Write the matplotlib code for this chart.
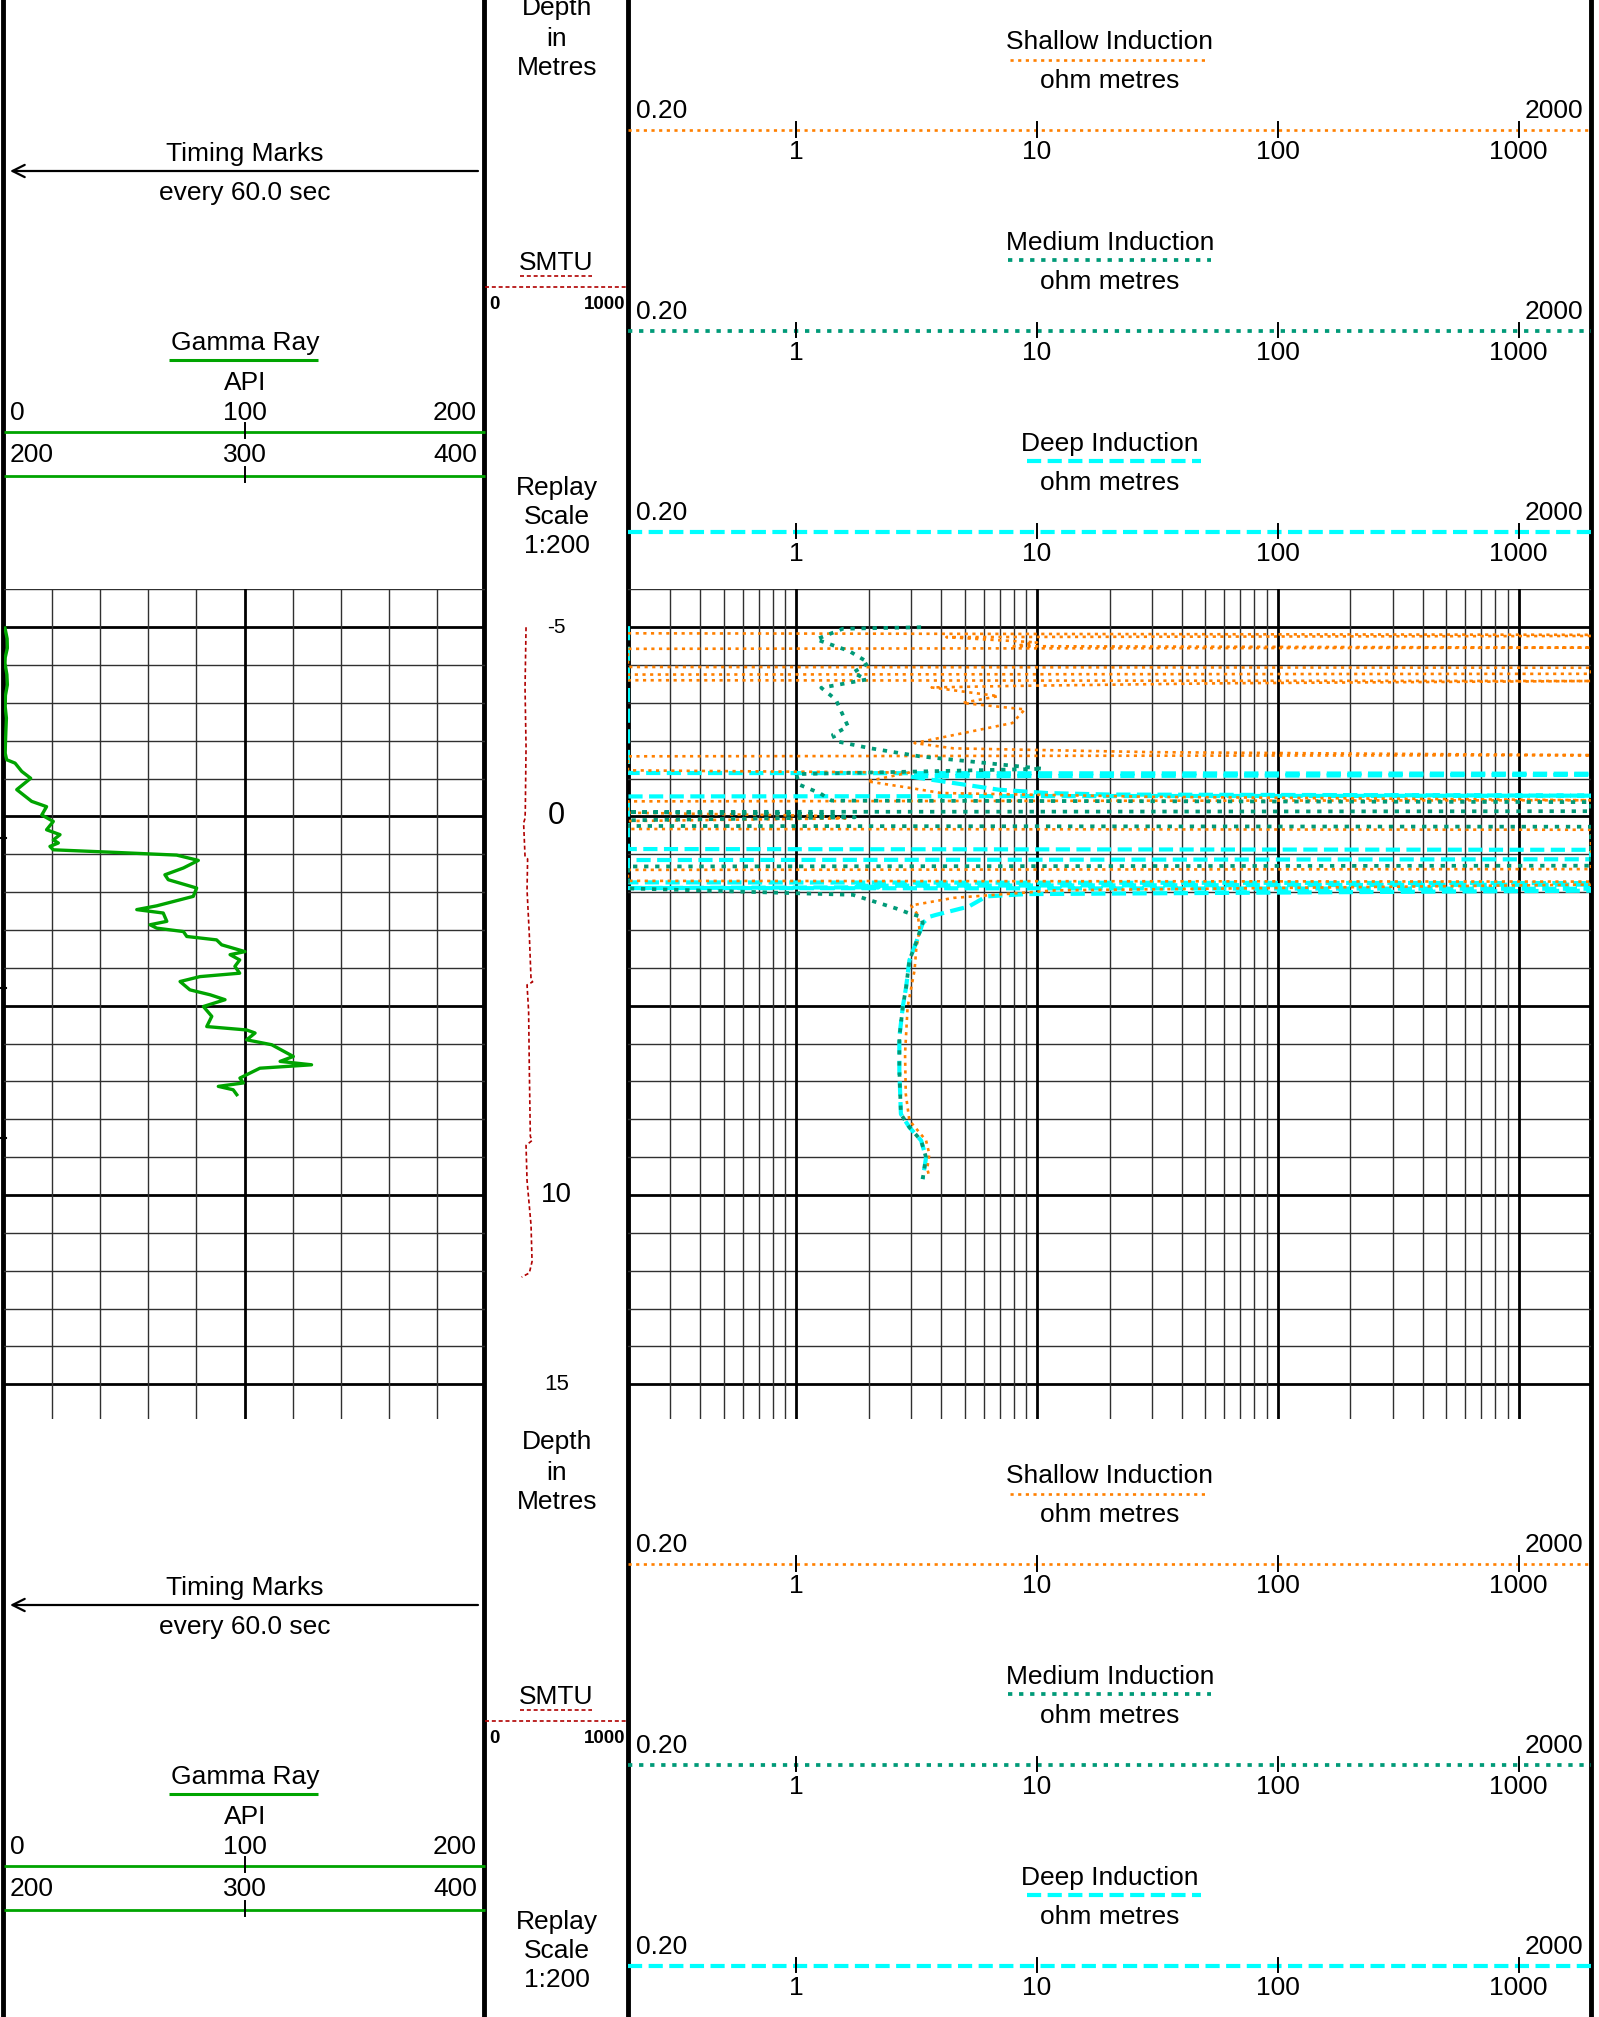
import numpy as np
import matplotlib
matplotlib.use("Agg")
import matplotlib.pyplot as plt
from matplotlib.transforms import blended_transform_factory as blend

plt.rcParams['font.family'] = ['Liberation Sans', 'DejaVu Sans']

# ---------------- data ----------------
# Gamma ray (API) versus depth (m)
gr_points = [(-4.98, 0.4), (-4.70, 1.3), (-4.45, 1.4), (-4.20, 0.5), (-4.05, 0.4), (-3.75, 1.2),
             (-3.48, 1.4), (-3.20, 0.6), (-2.90, 0.5), (-2.60, 1.0), (-2.29, 0.8), (-1.95, 0.6),
             (-1.67, 0.5), (-1.50, 1.1), (-1.41, 4.6), (-1.19, 7.4), (-1.01, 11.1), (-0.71, 5.3),
             (-0.40, 11.5), (-0.26, 17.7), (-0.04, 15.7), (0.13, 20.5), (0.35, 17.7), (0.48, 23.3),
             (0.62, 20.5), (0.70, 22.6), (0.79, 19.1), (0.88, 20.5), (0.95, 46.9), (1.02, 71.8),
             (1.16, 80.8), (1.36, 74.6), (1.54, 66.9), (1.67, 68.3), (1.89, 80.1), (2.11, 78.7),
             (2.36, 63.5), (2.46, 55.2), (2.55, 66.2), (2.77, 67.7), (2.86, 60.7), (2.95, 63.5),
             (3.04, 74.6), (3.17, 76.0), (3.26, 88.4), (3.39, 90.5), (3.57, 100.2), (3.65, 94.0),
             (3.79, 98.0), (3.96, 96.0), (4.14, 98.0), (4.23, 81.5), (4.36, 73.2), (4.58, 77.3),
             (4.71, 85.7), (4.84, 91.9), (5.02, 82.9), (5.28, 86.4), (5.55, 84.3), (5.64, 100.9),
             (5.72, 104.4), (5.90, 100.9), (6.03, 111.3), (6.34, 120.3), (6.47, 114.8), (6.56, 127.9),
             (6.65, 106.4), (6.91, 98.1), (7.04, 99.5), (7.13, 89.1), (7.22, 95.3), (7.35, 96.8)]

# SMTU (0-1000) versus depth
smtu_points = [(-5.0, 287), (-3.4, 280), (-1.84, 287), (-0.2, 282), (0.05, 280), (0.17, 270),
               (1.06, 280), (1.12, 298), (1.94, 294), (3.13, 310), (4.31, 322), (4.37, 333),
               (4.45, 294), (5.14, 305), (6.68, 310), (8.45, 317), (8.56, 329), (8.69, 287),
               (9.62, 294), (10.8, 322), (11.76, 329), (12.06, 310), (12.17, 256)]

# Shallow induction (ohm m, clamped to track 0.2-2000)
ils_points = [(-4.84, 0.2), (-4.80, 2000), (-4.77, 2000), (-4.74, 4.2), (-4.68, 6.0), (-4.60, 10),
              (-4.50, 8.0), (-4.46, 2000), (-4.43, 0.2), (-3.95, 0.2), (-3.93, 2000), (-3.77, 2000),
              (-3.75, 0.2), (-3.60, 0.2), (-3.58, 2000), (-3.52, 60), (-3.45, 8.0), (-3.41, 3.65),
              (-3.18, 6.9), (-3.00, 4.9), (-2.83, 8.9), (-2.47, 7.9), (-1.94, 3.1), (-1.80, 4.5),
              (-1.70, 30), (-1.62, 2000), (-1.59, 0.2), (-1.22, 0.2), (-1.16, 2.94), (-0.93, 1.97),
              (-0.75, 3.0), (-0.62, 4.0), (-0.52, 30), (-0.43, 2000), (-0.40, 0.2), (-0.10, 0.2),
              (-0.02, 1.2), (0.05, 1.6), (0.12, 0.2), (0.33, 0.2), (0.35, 2000), (1.39, 2000),
              (1.41, 0.2), (1.70, 0.2), (1.72, 2000), (1.80, 2000), (1.95, 12), (2.15, 4.5),
              (2.35, 3.0), (2.60, 3.2), (3.00, 3.25), (3.50, 3.15), (4.06, 3.1), (5.03, 2.9),
              (6.27, 2.83), (7.33, 2.85), (8.03, 2.95), (8.30, 3.2), (8.56, 3.46), (8.92, 3.57),
              (9.30, 3.5), (9.53, 3.57)]

# Medium induction
ilm_points = [(-5.0, 3.3), (-4.96, 1.56), (-4.68, 1.21), (-4.37, 1.66), (-4.06, 2.0), (-3.80, 1.72),
              (-3.62, 1.96), (-3.40, 1.27), (-3.09, 1.46), (-2.38, 1.64), (-2.16, 1.42), (-1.99, 1.46),
              (-1.81, 2.0), (-1.59, 3.25), (-1.41, 6.2), (-1.26, 10.6), (-1.12, 1.0), (-0.84, 1.03),
              (-0.62, 1.25), (-0.42, 1.4), (-0.38, 2000), (-0.14, 2000), (-0.12, 0.2), (-0.06, 1.2),
              (0.02, 1.75), (0.10, 0.2), (0.25, 0.2), (0.27, 2000), (1.30, 2000), (1.32, 0.2),
              (1.90, 0.2), (2.07, 1.72), (2.43, 2.6), (2.56, 2.95), (2.65, 3.3), (2.82, 3.35),
              (3.35, 3.14), (3.80, 2.95), (4.50, 2.86), (5.03, 2.77), (5.83, 2.68), (6.71, 2.68),
              (7.86, 2.72), (8.21, 2.95), (8.56, 3.30), (9.01, 3.46), (9.58, 3.35)]

# Deep induction
ild_points = [(-5.03, 0.2), (-1.15, 0.2), (-1.13, 2000), (-1.10, 2000), (-1.06, 2.95), (-0.97, 3.65),
              (-0.71, 6.9), (-0.62, 11), (-0.58, 20), (-0.55, 2000), (-0.53, 0.2), (0.86, 0.2),
              (0.88, 2000), (1.13, 2000), (1.15, 0.2), (1.74, 0.2), (1.76, 2000), (1.80, 2000),
              (1.83, 1.8), (1.87, 2.2), (1.89, 0.2), (1.91, 2000), (1.96, 2000), (2.05, 9.0),
              (2.11, 6.17), (2.38, 5.2), (2.60, 3.8), (2.65, 3.57), (2.82, 3.35), (3.35, 3.14),
              (3.80, 2.95), (4.50, 2.86), (5.03, 2.77), (5.83, 2.68), (6.71, 2.68), (7.86, 2.72),
              (8.21, 2.95), (8.56, 3.30), (9.01, 3.46), (9.58, 3.35)]

timing_mark_depths = [0.57, 4.53, 8.49]
depth_labels = [-5, 0, 10, 15]
res_tick_values = [1, 10, 100, 1000]
res_range = (0.2, 2000)
gr_range = (0, 200)
smtu_range = (0, 1000)
gr_scale_rows = [("0", "100", "200"), ("200", "300", "400")]
curve_titles = ["Shallow Induction", "Medium Induction", "Deep Induction"]

gr_depth, gr_api = zip(*gr_points)
smtu_depth, smtu_val = zip(*smtu_points)
ils_depth, ils_val = zip(*ils_points)
ilm_depth, ilm_val = zip(*ilm_points)
ild_depth, ild_val = zip(*ild_points)

# ---------------- layout ----------------
W, H = 1599, 2017
X_L, X_GR, X_DP, X_R = 4, 485, 628, 1591
Y_TOP, Y_BOT = 589.4, 1418.8
PX_PER_M = 37.85
D_TOP = -6.0
D_BOT = D_TOP + (Y_BOT - Y_TOP) / PX_PER_M
HDR_SHIFT = 1434
FS = 19

ORANGE = '#FF8000'
TEAL = '#009A78'
CYAN = '#00FFFF'
GREEN = '#00A400'
RED = '#B00000'
GRID_C = '#303030'

S_SHALLOW = dict(color=ORANGE, lw=1.9, dashes=(1.2, 1.7), dash_capstyle='butt')
S_MEDIUM = dict(color=TEAL, lw=2.7, dashes=(1.15, 1.8), dash_capstyle='butt')
S_DEEP = dict(color=CYAN, lw=3.0, dashes=(3.4, 1.55), dash_capstyle='butt')
S_SMTU = dict(color=RED, lw=1.2, dashes=(2.4, 1.7), dash_capstyle='butt')
curve_styles = [S_SHALLOW, S_MEDIUM, S_DEEP]
underline_px = [(1010, 1209), (1008, 1211), (1027, 1201)]

fig = plt.figure(figsize=(W / 100, H / 100), dpi=100)
fig.patch.set_facecolor('white')


def add_ax(x0, x1, y0, y1, z):
    ax = fig.add_axes([x0 / W, 1 - y1 / H, (x1 - x0) / W, (y1 - y0) / H], zorder=z)
    ax.axis('off')
    return ax


ov = add_ax(0, W, 0, H, 0)
ov.set_xlim(0, W)
ov.set_ylim(H, 0)

og = add_ax(X_L, X_GR, 0, H, 1)
og.set_xlim(*gr_range)
og.set_ylim(H, 0)
od = add_ax(X_GR, X_DP, 0, H, 1)
od.set_xlim(*smtu_range)
od.set_ylim(H, 0)
orr = add_ax(X_DP, X_R, 0, H, 1)
orr.set_xscale('log')
orr.set_xlim(*res_range)
orr.set_ylim(H, 0)

ag = add_ax(X_L, X_GR, Y_TOP, Y_BOT, 2)
ag.set_xlim(*gr_range)
ag.set_ylim(D_BOT, D_TOP)
ad = add_ax(X_GR, X_DP, Y_TOP, Y_BOT, 2)
ad.set_xlim(*smtu_range)
ad.set_ylim(D_BOT, D_TOP)
ar = add_ax(X_DP, X_R, Y_TOP, Y_BOT, 2)
ar.set_xscale('log')
ar.set_xlim(*res_range)
ar.set_ylim(D_BOT, D_TOP)

# ---------------- borders ----------------
for x in (3, 484, 628, 1591):
    ov.axvline(x, color='k', lw=3.5, zorder=1)


def T(x, y, s, ha='center', size=FS, **kw):
    ov.text(x, y, s, ha=ha, va='baseline', fontsize=size, color='k', **kw)


# ---------------- headers ----------------
for off in (0, HDR_SHIFT):
    # depth track
    T(557, 15.3 + off, 'Depth')
    T(557, 46 + off, 'in')
    T(557, 75.4 + off, 'Metres')
    T(556, 269.8 + off, 'SMTU')
    ov.plot([519.6, 591.8], [276.3 + off] * 2, **S_SMTU)
    od.plot(smtu_range, [286.6 + off] * 2, clip_on=False, **S_SMTU)
    T(489, 309.2 + off, str(smtu_range[0]), ha='left', size=13.5, fontweight='bold')
    T(625, 309.2 + off, str(smtu_range[1]), ha='right', size=13.5, fontweight='bold')
    T(557, 494.5 + off, 'Replay')
    T(557, 523.5 + off, 'Scale')
    T(557, 553 + off, '1:200')

    # gamma track
    T(245, 160.7 + off, 'Timing Marks')
    ov.annotate('', xy=(10, 171 + off), xytext=(478, 171 + off),
                arrowprops=dict(arrowstyle='->', lw=1.6, color='k', mutation_scale=22,
                                shrinkA=0, shrinkB=0))
    T(245, 199.8 + off, 'every 60.0 sec')
    T(245, 350.2 + off, 'Gamma Ray')
    ov.plot([169, 317.6], [360 + off] * 2, color=GREEN, lw=2.2, solid_capstyle='butt')
    T(245, 389.6 + off, 'API')
    for r, (row, yl, yline) in enumerate(zip(gr_scale_rows, (419.8, 462.0), (431.7, 475.7))):
        T(10, yl + off, row[0], ha='left')
        og.text(np.mean(gr_range), yl + off, row[1], ha='center', va='baseline', fontsize=FS)
        T(477, yl + off, row[2], ha='right')
        og.plot(gr_range, [yline + off] * 2, color=GREEN, lw=2.0, clip_on=False, solid_capstyle='butt')
        og.plot([np.mean(gr_range)] * 2, [yline - 8.5 + off, yline + 6.5 + off], color='k', lw=1.4)

    # resistivity track
    for i, (title, sty, ul) in enumerate(zip(curve_titles, curve_styles, underline_px)):
        b = off + i * 200.8
        T(1110, 49 + b, title)
        ov.plot(ul, [59.5 + b] * 2, **sty)
        T(1110, 88.3 + b, 'ohm metres')
        T(636, 118 + b, '%.2f' % res_range[0], ha='left')
        T(1583, 118 + b, '%d' % res_range[1], ha='right')
        orr.plot(res_range, [130.3 + b] * 2, clip_on=False, **sty)
        for t in res_tick_values:
            orr.plot([t, t], [122 + b, 136.5 + b], color='k', lw=1.4)
            orr.text(t, 159 + b, str(t), ha='center', va='baseline', fontsize=FS)

# ---------------- grids ----------------
for ax in (ag, ar):
    for d in range(int(D_TOP), 16):
        major = d % 5 == 0
        ax.axhline(d, color='k' if major else GRID_C, lw=2.0 if major else 1.0, zorder=1)

for v in range(20, 200, 20):
    major = v == 100
    ag.axvline(v, color='k' if major else GRID_C, lw=2.0 if major else 1.0, zorder=1)

for dec in (0.1, 1, 10, 100, 1000):
    for m in range(1, 10):
        v = m * dec
        if res_range[0] * 1.001 < v < res_range[1] * 0.999:
            major = m == 1
            ar.axvline(v, color='k' if major else GRID_C, lw=2.0 if major else 1.0, zorder=1)

# ---------------- curves ----------------
ag.plot(gr_api, gr_depth, color=GREEN, lw=2.4, zorder=3)
ad.plot(smtu_val, smtu_depth, zorder=3, **S_SMTU)
ar.plot(ild_val, ild_depth, zorder=3, **S_DEEP)
ar.plot(ils_val, ils_depth, zorder=4, **S_SHALLOW)
ar.plot(ilm_val, ilm_depth, zorder=5, **S_MEDIUM)

# depth labels
label_sizes = {-5: 15, 0: 22, 10: 20, 15: 16}
tr = blend(ad.transAxes, ad.transData)
for d in depth_labels:
    ad.text(0.5, d, str(d), transform=tr, ha='center', va='center',
            fontsize=label_sizes.get(d, 18), color='k')

# timing marks on the left edge
tm = blend(ov.transData, ag.transData)
for d in timing_mark_depths:
    ag.plot([0, 6], [d, d], transform=tm, color='k', lw=1.5, clip_on=False)

fig.savefig('out.png', dpi=100, facecolor='white')
